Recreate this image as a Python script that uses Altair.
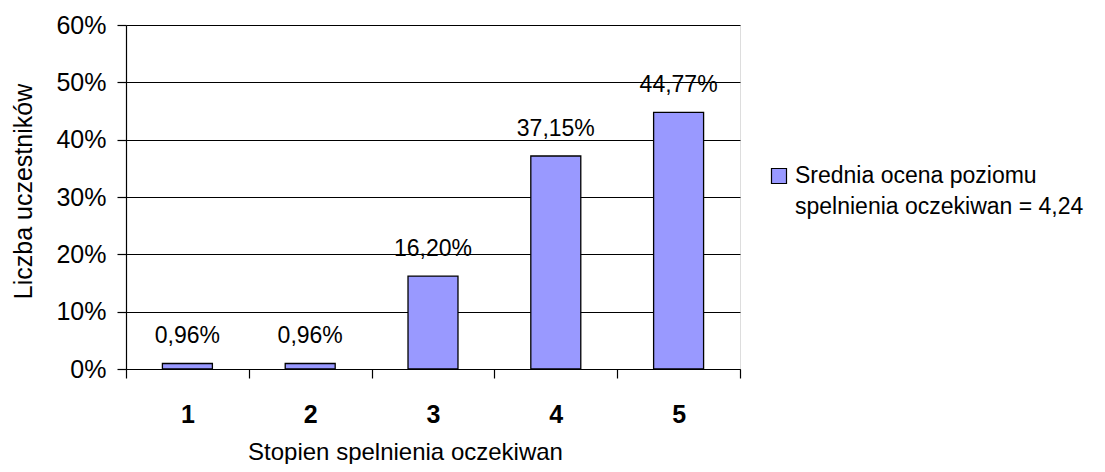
import altair as alt
import pandas as pd

categories = ["1", "2", "3", "4", "5"]
values = [0.96, 0.96, 16.20, 37.15, 44.77]
series_name = "Srednia ocena poziomu|spelnienia oczekiwan = 4,24"
y_ticks = [0, 10, 20, 30, 40, 50, 60]
bar_color = "#9999FF"

df = pd.DataFrame({"cat": categories, "val": values})
legend_df = pd.DataFrame({"series": [series_name]})

FONT = "Liberation Sans"

x_enc = alt.X(
    "cat:N",
    sort=categories,
    scale=alt.Scale(paddingInner=0, paddingOuter=0),
    axis=alt.Axis(
        title="Stopien spelnienia oczekiwan",
        titleFont=FONT, titleFontSize=24, titleFontWeight="normal", titleColor="black",
        titleX=279, titleY=90, titleBaseline="alphabetic", titleAnchor="middle", titleAlign="center",
        labelFont=FONT, labelFontSize=25, labelFontWeight="bold", labelColor="black",
        labelAngle=0, labelBaseline="alphabetic", labelPadding=44,
        tickBand="extent", tickSize=9, tickColor="black", tickWidth=1.2,
        domainColor="black", domainWidth=1.2, grid=False,
    ),
)

y_enc = alt.Y(
    "val:Q",
    scale=alt.Scale(domain=[0, 60], nice=False),
    axis=alt.Axis(
        title="Liczba uczestników",
        titleFont=FONT, titleFontSize=25, titleFontWeight="normal", titleColor="black",
        titleX=-95, titleY=166, titleBaseline="alphabetic", titleAngle=270, titleAlign="center",
        values=y_ticks, labelExpr="datum.value + '%'",
        labelFont=FONT, labelFontSize=25, labelColor="black", labelPadding=11,
        tickSize=9, tickColor="black", tickWidth=1.2,
        domainColor="black", domainWidth=1.2,
        grid=True, gridColor="black", gridWidth=1.2, gridOpacity=1,
    ),
)

bars = alt.Chart(df).mark_bar(
    width=alt.RelativeBandSize(0.407), stroke="black", strokeWidth=1.3, color=bar_color
).encode(x=x_enc, y=y_enc)

labels = alt.Chart(df).transform_calculate(
    txt="replace(format(datum.val, '.2f'), '.', ',') + '%'"
).mark_text(
    baseline="alphabetic", dy=-20, font=FONT, fontSize=23, color="black"
).encode(
    x=alt.X("cat:N", sort=categories),
    y=alt.Y("val:Q"),
    text="txt:N",
)

legend_symbol = alt.Chart(legend_df).mark_square(
    size=225, color=bar_color, stroke="black", strokeWidth=1.2, opacity=1, filled=True
).encode(x=alt.value(653), y=alt.value(151))

legend_text = alt.Chart(legend_df).mark_text(
    align="left", baseline="alphabetic", font=FONT, fontSize=23, color="black",
    lineBreak="|", lineHeight=31,
).encode(x=alt.value(669), y=alt.value(158), text="series:N")

chart = alt.layer(bars, labels, legend_symbol, legend_text).properties(
    width=614, height=344,
    autosize=alt.AutoSizeParams(type="none"),
    padding={"left": 118, "top": 17, "right": 357, "bottom": 95},
).configure_view(stroke=None).configure(background="white")

chart.save("out.html", embed_options={"renderer": "svg", "actions": False})
